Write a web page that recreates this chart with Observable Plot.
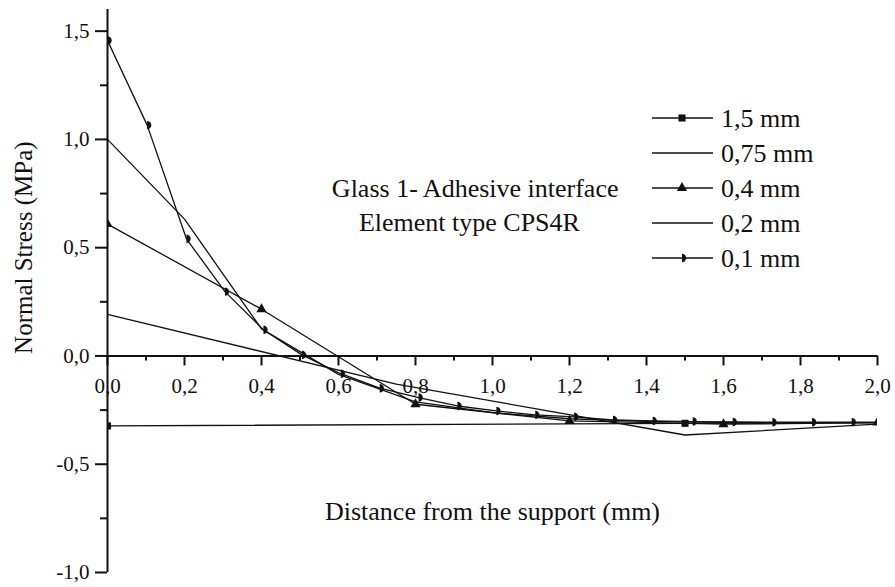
<!DOCTYPE html>
<html><head><meta charset="utf-8">
<script src="https://cdn.jsdelivr.net/npm/d3@7"></script>
<script src="https://cdn.jsdelivr.net/npm/@observablehq/plot@0.6"></script>
<style>
body{margin:0;background:#fff;}
#wrap{position:relative;width:895px;height:587px;font-family:"Liberation Serif","Times New Roman",serif;}
#legend{position:absolute;left:0;top:0;pointer-events:none;}
</style></head><body><div id="wrap"></div>
<script>
// ---- data ----
const seriesNames = ["1,5 mm", "0,75 mm", "0,4 mm", "0,2 mm", "0,1 mm"];

const x15 = [0, 1.5, 3.0];
const y15 = [-0.323, -0.311, -0.302];

const x075 = [0, 0.75, 1.5, 2.25];
const y075 = [0.192, -0.13, -0.365, -0.29];

const x04 = [0, 0.4, 0.8, 1.2, 1.6, 2.0];
const y04 = [0.609, 0.216, -0.223, -0.300, -0.315, -0.308];

const x02 = [0, 0.2, 0.4, 0.6, 0.8, 1.0, 1.2, 1.4, 1.6, 1.8, 2.0];
const y02 = [1.0, 0.632, 0.125, -0.085, -0.212, -0.262, -0.29, -0.302, -0.307, -0.308, -0.308];

const x01 = [0, 0.103, 0.205, 0.305, 0.405, 0.505, 0.606, 0.707, 0.808, 0.909, 1.01, 1.111, 1.212, 1.313, 1.416, 1.52, 1.624, 1.727, 1.83, 1.933, 2.0];
const y01 = [1.457, 1.066, 0.541, 0.297, 0.121, 0.005, -0.082, -0.149, -0.192, -0.231, -0.254, -0.272, -0.281, -0.295, -0.300, -0.303, -0.305, -0.306, -0.306, -0.306, -0.306];

const xTicks = [0, 0.2, 0.4, 0.6, 0.8, 1.0, 1.2, 1.4, 1.6, 1.8, 2.0];
const xMinor = [0.1, 0.3, 0.5, 0.7, 0.9, 1.1, 1.3, 1.5, 1.7, 1.9];
const yTicks = [-1.0, -0.5, 0, 0.5, 1.0, 1.5];
const yMinor = [-0.75, -0.25, 0.25, 0.75, 1.25];

const xTitle = "Distance from the support (mm)";
const yTitle = "Normal Stress (MPa)";
const noteLines = ["Glass 1- Adhesive interface", "Element type CPS4R"];
const noteX = [0.955, 0.94];
const noteY = [0.771, 0.614];

// ---- build ----
const fmt = d => d.toFixed(1).replace(".", ",");
const halfDisc = {draw(ctx, size){const r = Math.sqrt(size / Math.PI); ctx.moveTo(0, -r); ctx.arc(0, 0, r, -Math.PI/2, Math.PI/2); ctx.closePath();}};
const seriesDefs = [
  {name: seriesNames[0], x: x15, y: y15, symbol: "square", r: 4},
  {name: seriesNames[1], x: x075, y: y075, symbol: null},
  {name: seriesNames[2], x: x04, y: y04, symbol: "triangle", r: 3.8},
  {name: seriesNames[3], x: x02, y: y02, symbol: null},
  {name: seriesNames[4], x: x01, y: y01, symbol: halfDisc, r: 4.2}
];
const rows = seriesDefs.flatMap(s => s.x.map((x, i) => ({series: s.name, x, y: s.y[i]})));

const chart = Plot.plot({
  width: 895, height: 587,
  marginLeft: 107, marginRight: 18, marginTop: 9, marginBottom: 15,
  style: {fontFamily: '"Liberation Serif", "Times New Roman", serif', fontSize: "21px", background: "white", color: "#111"},
  x: {domain: [0, 2], axis: null},
  y: {domain: [-1.0, 1.6]},
  marks: [
    Plot.axisY(yTicks, {tickSize: 12, tickPadding: 6, tickFormat: fmt, fontSize: 21, label: null, strokeWidth: 2}),
    Plot.axisY(yMinor, {tickSize: 7, tickFormat: () => "", label: null, strokeWidth: 2}),
    Plot.ruleX([0], {stroke: "#111", strokeWidth: 2}),
    Plot.ruleY([0], {stroke: "#111", strokeWidth: 2}),
    Plot.ruleX(xTicks, {x: d => d, y1: () => 0, y2: () => 0, insetBottom: -10, stroke: "#111", strokeWidth: 2}),
    Plot.ruleX(xMinor, {x: d => d, y1: () => 0, y2: () => 0, insetBottom: -5, stroke: "#111", strokeWidth: 2}),
    Plot.text(xTicks, {x: d => d, y: () => 0, text: fmt, dy: 30, fontSize: 21, fill: "#111"}),
    Plot.line(rows, {x: "x", y: "y", z: "series", stroke: "#111", strokeWidth: 1.3, clip: true}),
    ...seriesDefs.filter(s => s.symbol).map(s =>
      Plot.dot(rows.filter(d => d.series === s.name), {x: "x", y: "y", symbol: s.symbol, r: s.r, fill: "#111", stroke: "none", clip: true})),
    Plot.text(noteLines, {x: (d, i) => noteX[i], y: (d, i) => noteY[i], text: d => d, fontSize: 26, fill: "#111"}),
    Plot.text([yTitle], {x: () => 0, y: () => 0.5, text: d => d, rotate: -90, dx: -84, fontSize: 25, fill: "#111"}),
    Plot.text([xTitle], {x: () => 1.0, y: () => -0.72, text: d => d, fontSize: 26, fill: "#111"})
  ]
});
const wrap = document.getElementById("wrap");
wrap.appendChild(chart);

// ---- legend overlay ----
const legY = [118, 153, 188, 223, 258];
const svg = d3.select(wrap).append("svg").attr("id", "legend").attr("width", 895).attr("height", 587);
seriesDefs.forEach((s, i) => {
  const g = svg.append("g").attr("transform", `translate(0,${legY[i]})`);
  g.append("line").attr("x1", 652).attr("x2", 713).attr("y1", 0).attr("y2", 0).attr("stroke", "#111").attr("stroke-width", 1.3);
  if (s.symbol) {
    const type = s.symbol === "square" ? d3.symbolSquare : s.symbol === "triangle" ? d3.symbolTriangle : s.symbol;
    g.append("path").attr("transform", "translate(682,0)").attr("d", d3.symbol(type, Math.PI * s.r * s.r)()).attr("fill", "#111");
  }
  g.append("text").attr("x", 721).attr("y", 0).attr("dy", "0.35em").attr("font-size", 26).attr("fill", "#111")
    .attr("font-family", '"Liberation Serif", "Times New Roman", serif').text(s.name);
});
</script></body></html>
